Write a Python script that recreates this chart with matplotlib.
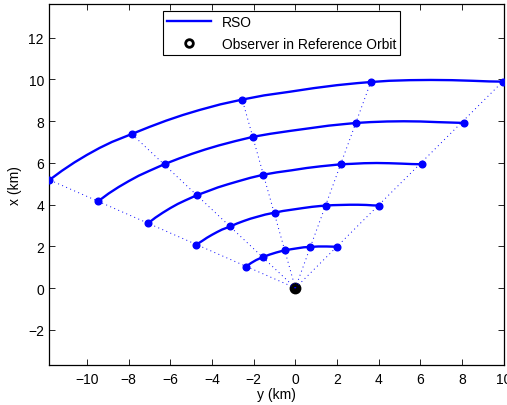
import numpy as np
import matplotlib
matplotlib.use('Agg')
from matplotlib import pyplot as plt
from matplotlib.lines import Line2D

plt.rcParams['font.family'] = ['Liberation Sans', 'DejaVu Sans']
plt.rcParams['font.size'] = 10

# RSO trajectories (horizontal axis y, vertical axis x)
arc1_y = [-2.38, -2.12, -1.88, -1.57, -1.24, -0.92, -0.51, -0.06, 0.4, 0.72, 1.1, 1.5, 1.86, 2.02]
arc1_x = [1.02, 1.2, 1.34, 1.48, 1.6, 1.70, 1.81, 1.88, 1.95, 1.97, 1.99, 1.99, 1.98, 1.98]
arc2_y = [-4.75, -4.48, -4.24, -4.0, -3.76, -3.52, -3.12, -2.8, -2.48, -2.16, -1.84, -1.44, -1.0,
          -0.6, -0.12, 0.36, 0.8, 1.2, 1.47, 1.8, 2.2, 2.6, 3.0, 3.4, 3.72, 4.02]
arc2_x = [2.08, 2.25, 2.41, 2.55, 2.68, 2.8, 2.95, 3.09, 3.21, 3.32, 3.41, 3.52, 3.61,
          3.69, 3.76, 3.83, 3.89, 3.93, 3.95, 3.97, 3.98, 3.99, 3.99, 3.98, 3.96, 3.95]
arc3_y = [-7.07, -6.72, -6.36, -6.0, -5.64, -5.28, -4.72, -4.2, -3.72, -3.24, -2.76, -2.16, -1.53,
          -0.9, -0.18, 0.54, 1.2, 1.8, 2.19, 2.7, 3.3, 3.9, 4.5, 5.1, 5.58, 6.06]
arc3_x = [3.10, 3.37, 3.61, 3.83, 4.03, 4.2, 4.45, 4.64, 4.82, 4.97, 5.11, 5.28, 5.43,
          5.54, 5.64, 5.75, 5.83, 5.89, 5.93, 5.95, 5.98, 5.99, 5.98, 5.96, 5.94, 5.93]
arc4_y = [-9.46, -8.96, -8.48, -8.0, -7.52, -7.04, -6.27, -5.6, -4.96, -4.32, -3.68, -2.88, -2.01,
          -1.2, -0.24, 0.72, 1.6, 2.4, 2.93, 3.6, 4.4, 5.2, 6.0, 6.8, 7.44, 8.09]
arc4_x = [4.16, 4.53, 4.84, 5.12, 5.38, 5.60, 5.94, 6.2, 6.43, 6.64, 6.83, 7.04, 7.25,
          7.39, 7.53, 7.66, 7.78, 7.86, 7.91, 7.95, 7.98, 7.99, 7.98, 7.95, 7.93, 7.91]
arc5_y = [-11.8, -11.2, -10.6, -10.0, -9.4, -8.8, -7.85, -7.0, -6.2, -5.4, -4.6, -3.6, -2.55,
          -1.5, -0.3, 0.9, 2.0, 3.0, 3.62, 4.5, 5.5, 6.5, 7.5, 8.5, 9.3, 9.95]
arc5_x = [5.18, 5.62, 6.02, 6.38, 6.71, 7.0, 7.38, 7.72, 8.02, 8.29, 8.53, 8.8, 9.03,
          9.23, 9.40, 9.58, 9.72, 9.82, 9.87, 9.93, 9.96, 9.97, 9.96, 9.93, 9.9, 9.89]

# sample points on each trajectory
mk1_y = [-2.38, -1.57, -0.51, 0.72, 2.02]
mk1_x = [1.02, 1.48, 1.81, 1.97, 1.98]
mk2_y = [-4.75, -3.12, -1.0, 1.47, 4.02]
mk2_x = [2.08, 2.95, 3.61, 3.95, 3.95]
mk3_y = [-7.07, -4.72, -1.53, 2.19, 6.06]
mk3_x = [3.10, 4.45, 5.43, 5.93, 5.93]
mk4_y = [-9.46, -6.27, -2.01, 2.93, 8.09]
mk4_x = [4.16, 5.94, 7.25, 7.91, 7.91]
mk5_y = [-11.8, -7.85, -2.55, 3.62, 9.95]
mk5_x = [5.18, 7.38, 9.03, 9.87, 9.89]

obs_y = [0]
obs_x = [0]

fig = plt.figure(figsize=(5.07, 4.06), dpi=100)
ax = fig.add_axes([0.0976, 0.0985, 0.8959, 0.8892])

arcs = [(arc1_y, arc1_x), (arc2_y, arc2_x), (arc3_y, arc3_x), (arc4_y, arc4_x), (arc5_y, arc5_x)]
marks = [(mk1_y, mk1_x), (mk2_y, mk2_x), (mk3_y, mk3_x), (mk4_y, mk4_x), (mk5_y, mk5_x)]

ax.plot(obs_y, obs_x, 'o', color='k', mfc='k', mec='k', mew=1.5, ms=7, zorder=2)

rso = None
for ay, axx in arcs:
    ln, = ax.plot(ay, axx, '-', color='b', lw=1.7, zorder=3)
    if rso is None:
        rso = ln
for my, mx in marks:
    ax.plot(my, mx, 'o', color='b', ms=4.8, zorder=4)

# dotted lines of sight from the observer through the samples
for j in range(len(mk5_y)):
    ax.plot([obs_y[0], mk5_y[j]], [obs_x[0], mk5_x[j]], color='b', lw=0.7,
            dashes=(1, 3.5), zorder=3)

ax.set_xlim(-11.8, 9.95)
ax.set_ylim(-3.69, 13.61)
ax.set_xticks(np.arange(-10, 11, 2))
ax.set_yticks(np.arange(-2, 13, 2))
ax.tick_params(direction='in', top=True, right=True, length=4.5, width=0.6, labelsize=10)
ax.tick_params(axis='x', pad=5)
ax.tick_params(axis='y', pad=4)
for s in ax.spines.values():
    s.set_linewidth(0.9)

ax.set_xlabel('y (km)', labelpad=1)
ax.set_ylabel('x (km)', labelpad=4)

obs_handle = Line2D([], [], ls='none', marker='o', mfc='w', mec='k', mew=2.0, ms=5.5)
leg = ax.legend([rso, obs_handle], ['RSO', 'Observer in Reference Orbit'],
                loc='upper left', bbox_to_anchor=(0.2506, 0.9806),
                fancybox=False, edgecolor='k', framealpha=1, borderpad=0.3,
                handlelength=3.1, handletextpad=0.8, labelspacing=0.55,
                fontsize=10, borderaxespad=0)
leg.get_frame().set_linewidth(0.8)

fig.savefig('out.png', dpi=100)
